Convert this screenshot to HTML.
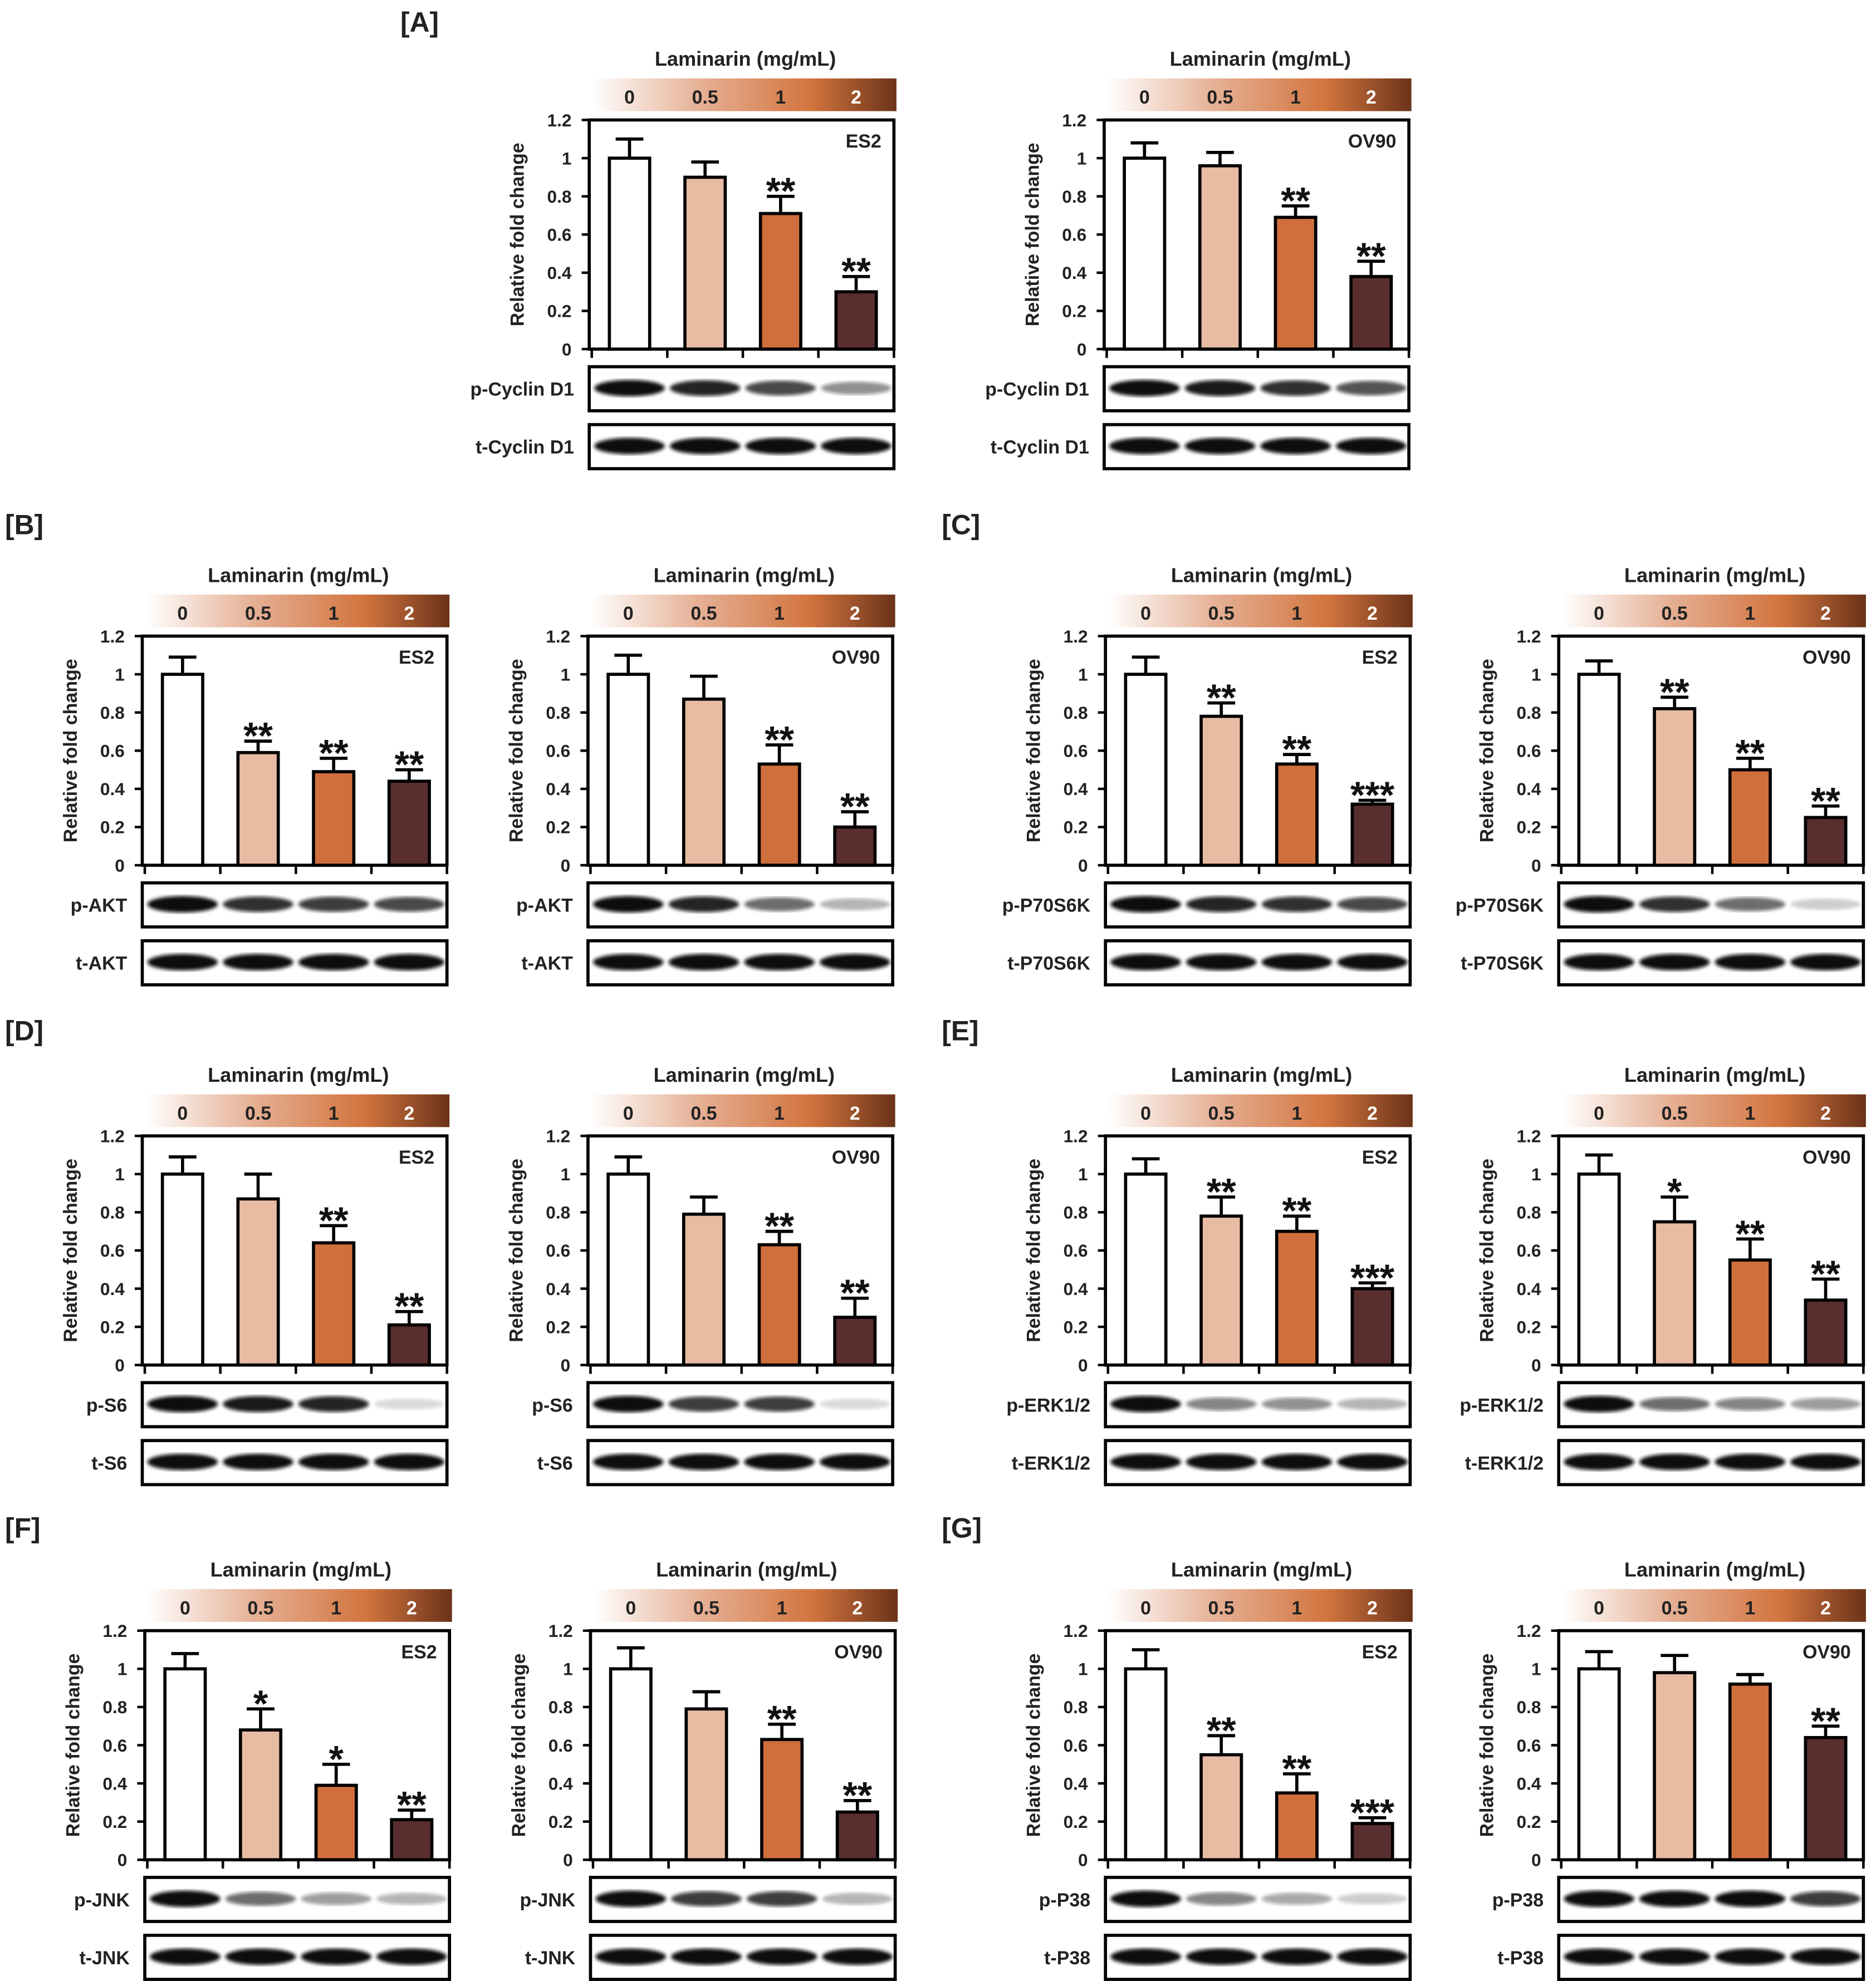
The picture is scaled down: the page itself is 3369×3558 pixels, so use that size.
<!DOCTYPE html>
<html><head><meta charset="utf-8"><style>
html,body{margin:0;padding:0;background:#fff}
svg{display:block;font-family:"Liberation Sans",Arial,sans-serif}
</style></head><body>
<svg id="fig" width="3369" height="3558" viewBox="0 0 1490 1573" xmlns="http://www.w3.org/2000/svg">
<defs>
<linearGradient id="grad" x1="0" x2="1" y1="0" y2="0">
<stop offset="0" stop-color="#ffffff"/><stop offset="0.35" stop-color="#e6b196"/><stop offset="0.72" stop-color="#d2743e"/><stop offset="1" stop-color="#6b3319"/>
</linearGradient>
<filter id="blur"><feGaussianBlur stdDeviation="1.4"/></filter>
</defs>
</svg>
<script>
const NS="http://www.w3.org/2000/svg";
const svg=document.getElementById('fig');
const doses=["0","0.5","1","2"];
const yTicks=[0,0.2,0.4,0.6,0.8,1,1.2];
const colors=["#ffffff","#e8bba3","#cf6f3c","#5a2e2e"];
const valsA1=[1,0.9,0.71,0.3], errA1=[0.1,0.08,0.09,0.08], sigA1=["","","**","**"];
const valsA2=[1,0.96,0.69,0.38], errA2=[0.08,0.07,0.06,0.08], sigA2=["","","**","**"];
const valsB1=[1,0.59,0.49,0.44], errB1=[0.09,0.06,0.07,0.06], sigB1=["","**","**","**"];
const valsB2=[1,0.87,0.53,0.2], errB2=[0.1,0.12,0.1,0.08], sigB2=["","","**","**"];
const valsC1=[1,0.78,0.53,0.32], errC1=[0.09,0.07,0.05,0.02], sigC1=["","**","**","***"];
const valsC2=[1,0.82,0.5,0.25], errC2=[0.07,0.06,0.06,0.06], sigC2=["","**","**","**"];
const valsD1=[1,0.87,0.64,0.21], errD1=[0.09,0.13,0.09,0.07], sigD1=["","","**","**"];
const valsD2=[1,0.79,0.63,0.25], errD2=[0.09,0.09,0.07,0.1], sigD2=["","","**","**"];
const valsE1=[1,0.78,0.7,0.4], errE1=[0.08,0.1,0.08,0.03], sigE1=["","**","**","***"];
const valsE2=[1,0.75,0.55,0.34], errE2=[0.1,0.13,0.11,0.11], sigE2=["","*","**","**"];
const valsF1=[1,0.68,0.39,0.21], errF1=[0.08,0.11,0.11,0.05], sigF1=["","*","*","**"];
const valsF2=[1,0.79,0.63,0.25], errF2=[0.11,0.09,0.08,0.06], sigF2=["","","**","**"];
const valsG1=[1,0.55,0.35,0.19], errG1=[0.1,0.1,0.1,0.03], sigG1=["","**","**","***"];
const valsG2=[1,0.98,0.92,0.64], errG2=[0.09,0.09,0.05,0.06], sigG2=["","","","**"];
const bandP=[[1,0.9,0.75,0.45],[1,0.95,0.85,0.7],[1,0.85,0.8,0.75],[1,0.9,0.6,0.3],[1,0.9,0.85,0.75],[1,0.85,0.6,0.2],[1,0.95,0.9,0.15],[1,0.8,0.8,0.15],[1,0.5,0.45,0.3],[1,0.6,0.5,0.4],[1,0.6,0.4,0.3],[1,0.8,0.8,0.3],[1,0.5,0.35,0.2],[1,1,1,0.8]];

function el(tag,attrs,parent){const e=document.createElementNS(NS,tag);for(const k in attrs)e.setAttribute(k,attrs[k]);(parent||svg).appendChild(e);return e;}
function txt(s,attrs,parent){const e=el('text',attrs,parent);e.textContent=s;return e;}

function panel(id,L,T,vals,errs,sigs,cell,pLab,tLab,pInt){
  const W=242,H=182,B=T+H;
  const g=el('g',{});
  
  
  const y=v=>B-v/1.2*H;
  const xc=i=>L+32+60*i;
  const t=txt("Laminarin (mg/mL)",{x:L+124,y:T-43,'text-anchor':'middle','font-size':16,'font-weight':'bold',fill:'#222'},g);
  
  const gb=el('rect',{x:L+2,y:T-33,width:242,height:26,fill:'url(#grad)'},g);
  
  doses.forEach((d,i)=>{const dt=txt(d,{x:xc(i),y:T-13,'text-anchor':'middle','font-size':15,'font-weight':'bold',fill:i==3?'#fff':'#222'},g);
    });
  const box=el('rect',{x:L,y:T,width:W,height:H,fill:'none',stroke:'#000','stroke-width':2.5},g);
  
  yTicks.forEach(v=>{el('line',{x1:L-6,x2:L,y1:y(v),y2:y(v),stroke:'#000','stroke-width':2},g);
    const tl=txt(String(v),{x:L-14,y:y(v)+5,'text-anchor':'end','font-size':14,'font-weight':'bold',fill:'#222'},g);
    });
  for(let i=0;i<=4;i++)el('line',{x1:L+2+60*i,x2:L+2+60*i,y1:B,y2:B+7,stroke:'#000','stroke-width':2},g);
  const yt=txt("Relative fold change",{x:0,y:0,'text-anchor':'middle','font-size':15,'font-weight':'bold',fill:'#222',transform:`translate(${L-52},${T+H/2}) rotate(-90)`},g);
  
  const ct=txt(cell,{x:L+W-10,y:T+22,'text-anchor':'end','font-size':15,'font-weight':'bold',fill:'#222'},g);
  
  vals.forEach((v,i)=>{
    const top=y(v+errs[i]);
    el('line',{x1:xc(i),x2:xc(i),y1:y(v),y2:top,stroke:'#000','stroke-width':2.5},g);
    el('line',{x1:xc(i)-11,x2:xc(i)+11,y1:top,y2:top,stroke:'#000','stroke-width':2.5},g);
    const b=el('rect',{x:xc(i)-16,y:y(v),width:32,height:B-y(v),fill:colors[i],stroke:'#000','stroke-width':2.5},g);
    
    if(sigs[i]){const s=txt(sigs[i],{x:xc(i),y:top+6,'text-anchor':'middle','font-size':30,'font-weight':'bold',fill:'#111'},g);
      }
  });
  [[pLab,B+14,pInt],[tLab,B+60,[1,1,1,1]]].forEach(([lab,by,ints],k)=>{
    const r=el('rect',{x:L,y:by,width:W,height:35,fill:'#fff',stroke:'#000','stroke-width':2.5},g);
    
    ints.forEach((a,i)=>{el('ellipse',{cx:xc(i),cy:by+17,rx:28,ry:4+2.5*a,fill:'#111',opacity:Math.max(0.08,a),filter:'url(#blur)'},g);});
    const l=txt(lab,{x:L-12,y:by+23,'text-anchor':'end','font-size':15,'font-weight':'bold',fill:'#222'},g);
    
  });
}
const secs=[["[A]",318,25],["[B]",4,424],["[C]",748,424],["[D]",4,826],["[E]",748,826],["[F]",4,1221],["[G]",748,1221]];
secs.forEach(s=>{const t=txt(s[0],{x:s[1],y:s[2],'font-size':22,'font-weight':'bold',fill:'#222'});
  });
panel('a-es2',468,95,valsA1,errA1,sigA1,'ES2','p-Cyclin D1','t-Cyclin D1',bandP[0]);
panel('a-ov90',877,95,valsA2,errA2,sigA2,'OV90','p-Cyclin D1','t-Cyclin D1',bandP[1]);
panel('b-es2',113,505,valsB1,errB1,sigB1,'ES2','p-AKT','t-AKT',bandP[2]);
panel('b-ov90',467,505,valsB2,errB2,sigB2,'OV90','p-AKT','t-AKT',bandP[3]);
panel('c-es2',878,505,valsC1,errC1,sigC1,'ES2','p-P70S6K','t-P70S6K',bandP[4]);
panel('c-ov90',1238,505,valsC2,errC2,sigC2,'OV90','p-P70S6K','t-P70S6K',bandP[5]);
panel('d-es2',113,902,valsD1,errD1,sigD1,'ES2','p-S6','t-S6',bandP[6]);
panel('d-ov90',467,902,valsD2,errD2,sigD2,'OV90','p-S6','t-S6',bandP[7]);
panel('e-es2',878,902,valsE1,errE1,sigE1,'ES2','p-ERK1/2','t-ERK1/2',bandP[8]);
panel('e-ov90',1238,902,valsE2,errE2,sigE2,'OV90','p-ERK1/2','t-ERK1/2',bandP[9]);
panel('f-es2',115,1295,valsF1,errF1,sigF1,'ES2','p-JNK','t-JNK',bandP[10]);
panel('f-ov90',469,1295,valsF2,errF2,sigF2,'OV90','p-JNK','t-JNK',bandP[11]);
panel('g-es2',878,1295,valsG1,errG1,sigG1,'ES2','p-P38','t-P38',bandP[12]);
panel('g-ov90',1238,1295,valsG2,errG2,sigG2,'OV90','p-P38','t-P38',bandP[13]);
</script>
</body></html>
